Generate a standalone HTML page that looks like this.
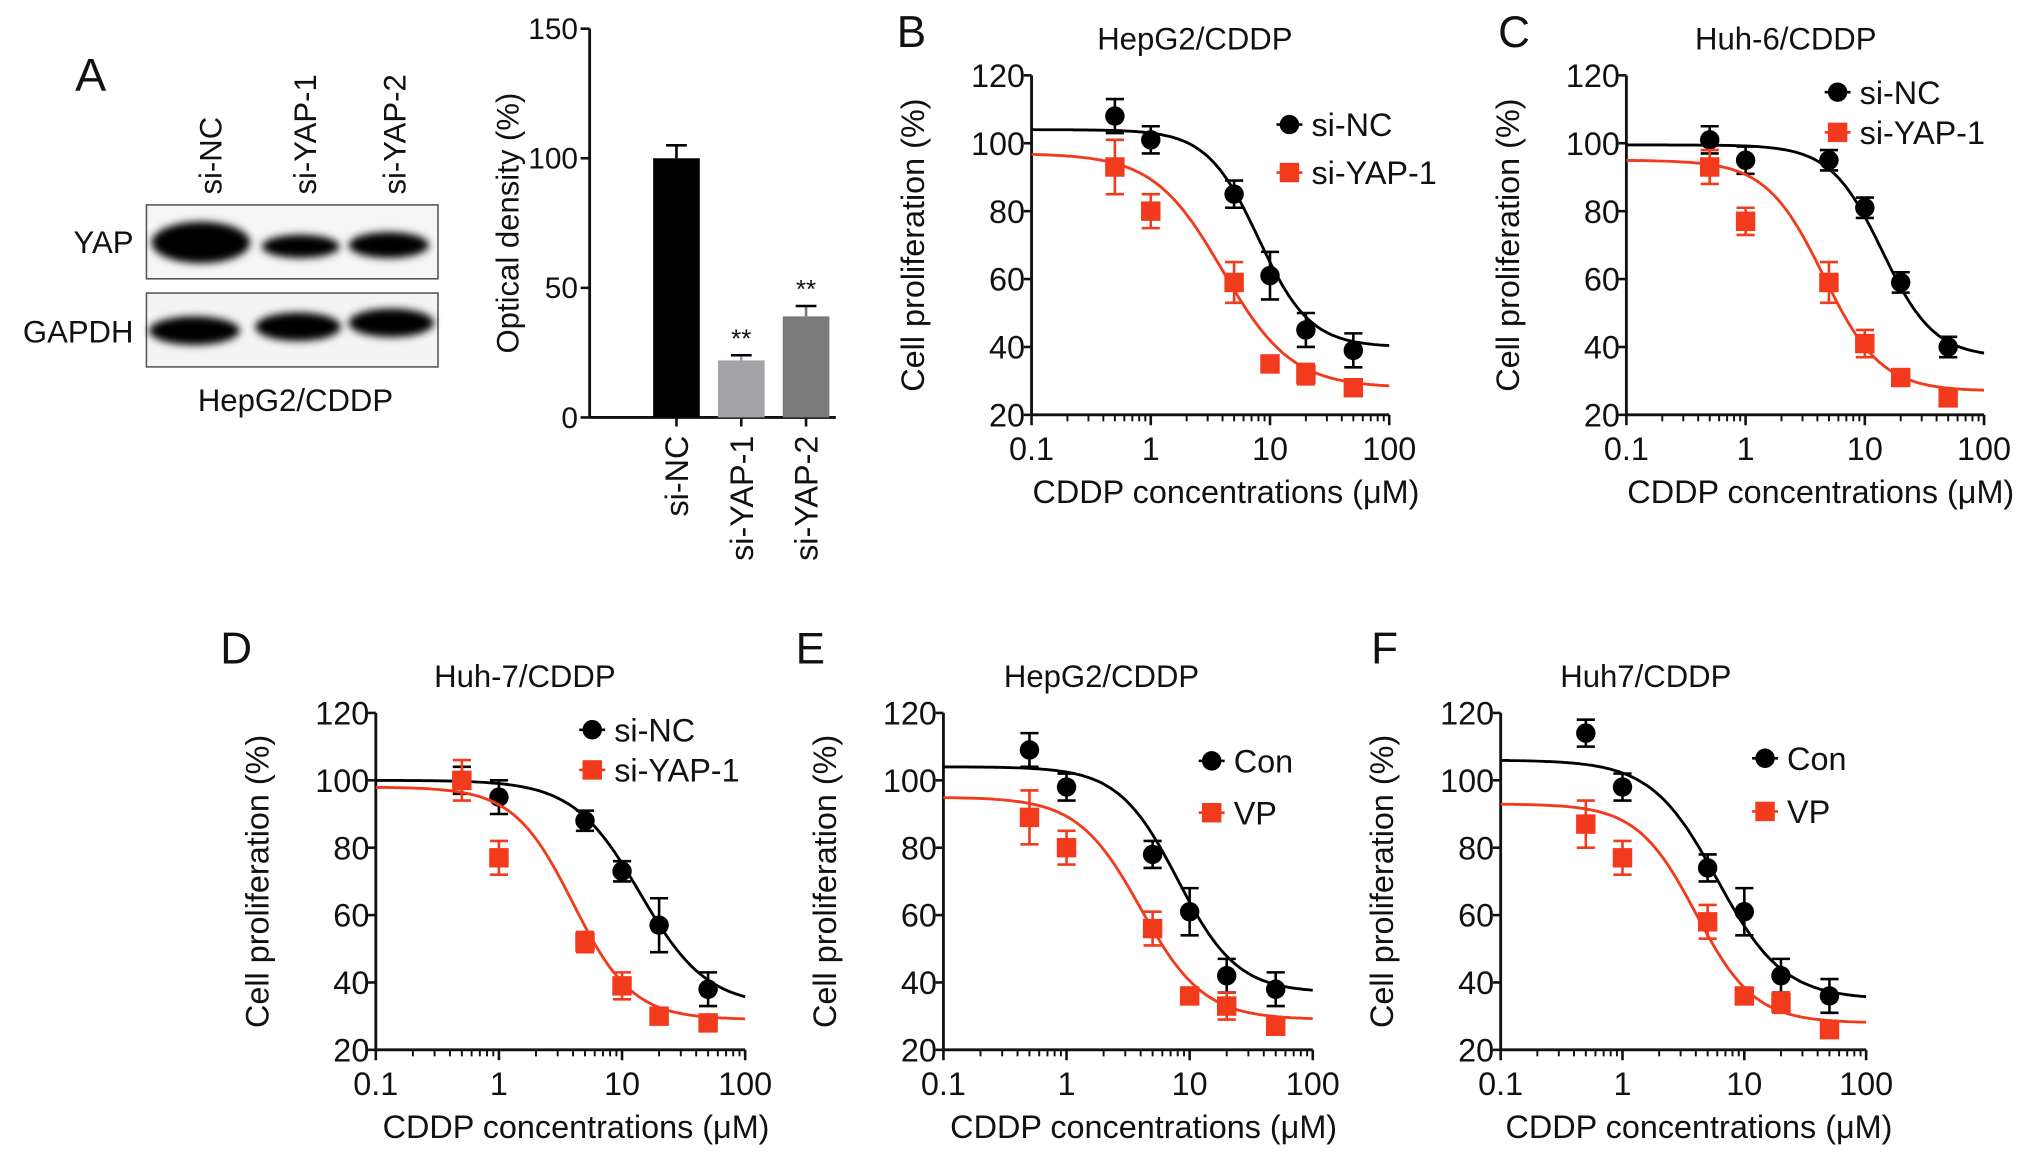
<!DOCTYPE html>
<html><head><meta charset="utf-8"><style>
html,body{margin:0;padding:0;background:#fff}
svg{display:block}
text{font-family:"Liberation Sans",Arial,sans-serif;fill:#111}
</style></head><body>
<svg id="fig" width="2032" height="1155" viewBox="0 0 1568 891" xmlns="http://www.w3.org/2000/svg">
<defs><filter id="blur" x="-20%" y="-50%" width="140%" height="200%"><feGaussianBlur stdDeviation="3"/></filter></defs>
<g>
<text x="58" y="70" font-size="36">A</text>
<text transform="translate(171,150) rotate(-90)" font-size="24">si-NC</text>
<text transform="translate(244,150) rotate(-90)" font-size="24">si-YAP-1</text>
<text transform="translate(313,150) rotate(-90)" font-size="24">si-YAP-2</text>
<text x="103" y="195" font-size="24" text-anchor="end">YAP</text>
<text x="103" y="264" font-size="24" text-anchor="end">GAPDH</text>
<rect x="113" y="158" width="225" height="57" fill="#f6f6f6" stroke="#555" stroke-width="1.2"/>
<rect x="113" y="226" width="225" height="57" fill="#f4f4f4" stroke="#555" stroke-width="1.2"/>
<g filter="url(#blur)" fill="#000">
<ellipse cx="155" cy="187" rx="38" ry="16"/>
<ellipse cx="232" cy="190" rx="30" ry="9"/>
<ellipse cx="300" cy="189" rx="31" ry="10"/>
<ellipse cx="150" cy="255" rx="35" ry="11"/>
<ellipse cx="230" cy="252" rx="33" ry="11"/>
<ellipse cx="302" cy="249" rx="33" ry="11"/>
</g>
<text x="228" y="317" font-size="24" text-anchor="middle">HepG2/CDDP</text>
</g>
<g id="bar"></g>
<g id="curves"></g>
</svg>
<script>
// ---- bar chart data ----
const barCats = ["si-NC","si-YAP-1","si-YAP-2"];
const barVals = [100, 22, 39];
const barErrs = [5, 2, 4];
const barSig = ["", "**", "**"];
const barTicks = [0, 50, 100, 150];
const barColors = ["#000","#a3a3a8","#7b7b7b"];

// ---- dose-response data ----
const doses = [0.5, 1, 5, 10, 20, 50];
const xTicks = [0.1, 1, 10, 100];
const xTickLabels = ["0.1","1","10","100"];
const yTicks = [20, 40, 60, 80, 100, 120];
const bNC = [108, 101, 85, 61, 45, 39];
const bNCerr = [5, 4, 4, 7, 5, 5];
const bYAP = [93, 80, 59, 35, 32, 28];
const bYAPerr = [8, 5, 6, 2, 3, 2];
const bFitNC = [104, 40, 8, 2];      // top, bottom, ic50, hill
const bFitYAP = [97, 28, 4, 1.5];
const cNC = [101, 95, 95, 81, 59, 40];
const cNCerr = [4, 4, 3, 3, 3, 3];
const cYAP = [93, 77, 59, 41, 31, 25];
const cYAPerr = [5, 4, 6, 4, 2, 2];
const cFitNC = [99.5, 37, 14, 2];
const cFitYAP = [95, 27, 4.5, 1.8];
const dNC = [100, 95, 88, 73, 57, 38];
const dNCerr = [4, 5, 3, 3, 8, 5];
const dYAP = [100, 77, 52, 39, 30, 28];
const dYAPerr = [6, 5, 3, 4, 2, 2];
const dFitNC = [100, 33, 14, 1.6];
const dFitYAP = [98, 29, 4, 1.8];
const eCon = [109, 98, 78, 61, 42, 38];
const eConErr = [5, 4, 4, 7, 5, 5];
const eVP = [89, 80, 56, 36, 33, 27];
const eVPerr = [8, 5, 5, 2, 4, 2];
const eFitCon = [104, 37, 8, 1.8];
const eFitVP = [95, 29, 4, 1.7];
const fCon = [114, 98, 74, 61, 42, 36];
const fConErr = [4, 4, 4, 7, 5, 5];
const fVP = [87, 77, 58, 36, 34, 26];
const fVPerr = [7, 5, 5, 2, 3, 2];
const fFitCon = [106, 35, 6, 1.6];
const fFitVP = [93, 28, 4, 1.8];

const NS = "http://www.w3.org/2000/svg";
function mk(parent, tag, attrs, txt){
  const e = document.createElementNS(NS, tag);
  for (const k in attrs) e.setAttribute(k, attrs[k]);
  if (txt !== undefined) e.textContent = txt;
  parent.appendChild(e);
  return e;
}

// ---- bar chart ----
(function(){
  const g = document.getElementById('bar');
  const x0 = 455, x1 = 645, yTop = 22, yBot = 322;
  const ys = v => yBot - (v / 150) * (yBot - yTop);
  const centers = [522, 572, 622];
  let ax = mk(g,'line',{x1:x0,y1:yTop,x2:x0,y2:yBot,stroke:'#111','stroke-width':2.2});
   
  let axx = mk(g,'line',{x1:x0,y1:yBot,x2:x1,y2:yBot,stroke:'#111','stroke-width':2.2});
   
  barTicks.forEach(t => {
    mk(g,'line',{x1:x0-7,y1:ys(t),x2:x0,y2:ys(t),stroke:'#111','stroke-width':2});
    const tl = mk(g,'text',{x:x0-9,y:ys(t)+8,'font-size':23,'text-anchor':'end'}, String(t));
     
  });
  const yt = mk(g,'text',{transform:'translate(400,172) rotate(-90)','font-size':24,'text-anchor':'middle'},'Optical density (%)');
   
  barCats.forEach((c,i) => {
    const cx = centers[i], w = 36;
    const r = mk(g,'rect',{x:cx-w/2,y:ys(barVals[i]),width:w,height:yBot-ys(barVals[i]),fill:barColors[i]});
     
    const ye = ys(barVals[i]+barErrs[i]);
    mk(g,'line',{x1:cx,y1:ys(barVals[i]),x2:cx,y2:ye,stroke:barColors[i],'stroke-width':2});
    mk(g,'line',{x1:cx-8,y1:ye,x2:cx+8,y2:ye,stroke:'#000','stroke-width':2});
    mk(g,'line',{x1:cx,y1:yBot,x2:cx,y2:yBot+7,stroke:'#111','stroke-width':2});
    if (barSig[i]) {
      const s = mk(g,'text',{x:cx,y:ye-6,'font-size':20,'text-anchor':'middle'},barSig[i]);
       
    }
    const lab = mk(g,'text',{transform:`translate(${cx+9},${yBot+14}) rotate(-90)`,'font-size':25,'text-anchor':'end'},c);
     
  });
})();

// ---- dose-response panels ----
function logistic(x, p){ return p[1] + (p[0]-p[1]) / (1 + Math.pow(x/p[2], p[3])); }

function panel(cfg){
  const root = document.getElementById('curves');
  const g = mk(root,'g',{});
  
  
  const {ax, ay0, ay1, dec} = cfg;
  const xs = v => ax + (Math.log10(v) + 1) * dec;
  const ys = v => ay1 - (v - 20) / 100 * (ay1 - ay0);
  const x1 = xs(100);
  const L = mk(g,'text',{x:cfg.lx,y:cfg.ly,'font-size':34},cfg.letter);
   
  const T = mk(g,'text',{x:cfg.tx,y:ay0-20,'font-size':24,'text-anchor':'middle'},cfg.title);
   
  const ya = mk(g,'line',{x1:ax,y1:ay0,x2:ax,y2:ay1,stroke:'#111','stroke-width':2.2});
   
  const xa = mk(g,'line',{x1:ax,y1:ay1,x2:x1,y2:ay1,stroke:'#111','stroke-width':2.2});
   
  yTicks.forEach(t => {
    mk(g,'line',{x1:ax-6,y1:ys(t),x2:ax,y2:ys(t),stroke:'#111','stroke-width':2});
    const tl = mk(g,'text',{x:ax-5,y:ys(t)+9,'font-size':25,'text-anchor':'end'},String(t));
     
  });
  xTicks.forEach((t,i) => {
    mk(g,'line',{x1:xs(t),y1:ay1,x2:xs(t),y2:ay1+8,stroke:'#111','stroke-width':2});
    const tl = mk(g,'text',{x:xs(t),y:ay1+35,'font-size':25,'text-anchor':'middle'},xTickLabels[i]);
     
    if (i < xTicks.length-1) for (let m=2;m<10;m++) mk(g,'line',{x1:xs(t*m),y1:ay1,x2:xs(t*m),y2:ay1+5,stroke:'#111','stroke-width':1.5});
  });
  const yt = mk(g,'text',{transform:`translate(${ax-83},${(ay0+ay1)/2}) rotate(-90)`,'font-size':25,'text-anchor':'middle'},'Cell proliferation (%)');
   
  const xt = mk(g,'text',{x:(ax+x1)/2+12,y:ay1+68,'font-size':25,'text-anchor':'middle'},'CDDP concentrations (\u03bcM)');
   

  cfg.series.forEach((s, si) => {
    const col = s.color;
    let d = '';
    for (let k=0;k<=150;k++){
      const lx = -1 + 3*k/150, v = Math.pow(10,lx);
      d += (k?'L':'M') + xs(v).toFixed(1) + ',' + ys(logistic(v, s.fit)).toFixed(1);
    }
    const p = mk(g,'path',{d, fill:'none', stroke:col,'stroke-width':2.2});
     
    doses.forEach((x,i) => {
      const cx = xs(x), cy = ys(s.vals[i]), e = s.errs[i];
      mk(g,'line',{x1:cx,y1:ys(s.vals[i]+e),x2:cx,y2:ys(s.vals[i]-e),stroke:col,'stroke-width':2});
      mk(g,'line',{x1:cx-7,y1:ys(s.vals[i]+e),x2:cx+7,y2:ys(s.vals[i]+e),stroke:col,'stroke-width':2});
      mk(g,'line',{x1:cx-7,y1:ys(s.vals[i]-e),x2:cx+7,y2:ys(s.vals[i]-e),stroke:col,'stroke-width':2});
      let m;
      if (s.shape==='circle') m = mk(g,'circle',{cx,cy,r:7.5,fill:col});
      else m = mk(g,'rect',{x:cx-7.5,y:cy-7.5,width:15,height:15,fill:col});
       
    });
    const ly = cfg.legY[si];
    let lm;
    if (s.shape==='circle') lm = mk(g,'circle',{cx:cfg.legX,cy:ly,r:7.5,fill:col});
    else lm = mk(g,'rect',{x:cfg.legX-7.5,y:ly-7.5,width:15,height:15,fill:col});
     
    mk(g,'line',{x1:cfg.legX-10,y1:ly,x2:cfg.legX+10,y2:ly,stroke:col,'stroke-width':2});
    const lt = mk(g,'text',{x:cfg.legX+17,y:ly+9,'font-size':25},s.label);
     
  });
}
const BLK = '#000', RED = '#f23a1c';
panel({letter:'B',lx:692,ly:36,title:'HepG2/CDDP',tx:922,ax:796,ay0:58,ay1:320,dec:92,legX:995,legY:[96,133],
  series:[{key:'si-nc',label:'si-NC',color:BLK,shape:'circle',vals:bNC,errs:bNCerr,fit:bFitNC},
          {key:'si-yap-1',label:'si-YAP-1',color:RED,shape:'square',vals:bYAP,errs:bYAPerr,fit:bFitYAP}]});
panel({letter:'C',lx:1156,ly:36,title:'Huh-6/CDDP',tx:1378,ax:1255,ay0:58,ay1:320,dec:92,legX:1418,legY:[71,102],
  series:[{key:'si-nc',label:'si-NC',color:BLK,shape:'circle',vals:cNC,errs:cNCerr,fit:cFitNC},
          {key:'si-yap-1',label:'si-YAP-1',color:RED,shape:'square',vals:cYAP,errs:cYAPerr,fit:cFitYAP}]});
panel({letter:'D',lx:170,ly:512,title:'Huh-7/CDDP',tx:405,ax:290,ay0:550,ay1:810,dec:95,legX:457,legY:[563,594],
  series:[{key:'si-nc',label:'si-NC',color:BLK,shape:'circle',vals:dNC,errs:dNCerr,fit:dFitNC},
          {key:'si-yap-1',label:'si-YAP-1',color:RED,shape:'square',vals:dYAP,errs:dYAPerr,fit:dFitYAP}]});
panel({letter:'E',lx:614,ly:512,title:'HepG2/CDDP',tx:850,ax:728,ay0:550,ay1:810,dec:95,legX:935,legY:[587,627],
  series:[{key:'con',label:'Con',color:BLK,shape:'circle',vals:eCon,errs:eConErr,fit:eFitCon},
          {key:'vp',label:'VP',color:RED,shape:'square',vals:eVP,errs:eVPerr,fit:eFitVP}]});
panel({letter:'F',lx:1058,ly:512,title:'Huh7/CDDP',tx:1270,ax:1158,ay0:550,ay1:810,dec:94,legX:1362,legY:[585,626],
  series:[{key:'con',label:'Con',color:BLK,shape:'circle',vals:fCon,errs:fConErr,fit:fFitCon},
          {key:'vp',label:'VP',color:RED,shape:'square',vals:fVP,errs:fVPerr,fit:fFitVP}]});
</script>
</body></html>
